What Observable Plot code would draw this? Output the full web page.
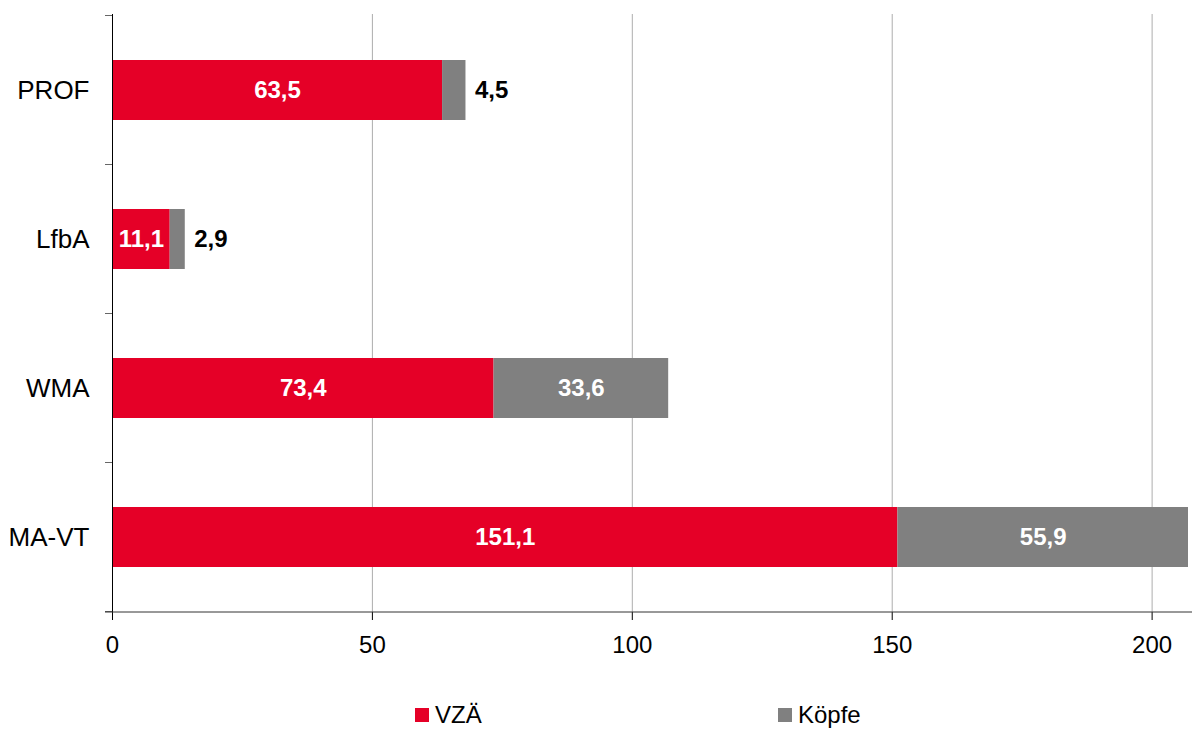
<!DOCTYPE html>
<html>
<head>
<meta charset="utf-8">
<script src="https://cdn.jsdelivr.net/npm/d3@7"></script>
<script src="https://cdn.jsdelivr.net/npm/@observablehq/plot@0.6"></script>
<style>
  html, body { margin: 0; padding: 0; background: #fff; }
  #wrap { position: relative; width: 1192px; height: 729px; font-family: "Liberation Sans", Arial, sans-serif; }
  #legend { position: absolute; left: 0; top: 700px; width: 1192px; height: 29px; font-size: 24px; color: #000; }
  .item { position: absolute; top: 0; height: 29px; display: flex; align-items: center; }
  .sw { width: 14px; height: 14px; margin-right: 6px; }
</style>
</head>
<body>
<div id="wrap">
  <div id="chart"></div>
  <div id="legend"></div>
</div>
<script>
const categories = ["PROF", "LfbA", "WMA", "MA-VT"];
const seriesNames = ["VZÄ", "Köpfe"];
const vzaValues = [63.5, 11.1, 73.4, 151.1];
const koepfeValues = [4.5, 2.9, 33.6, 55.9];
const xTicks = [0, 50, 100, 150, 200];
const colors = ["#e50027", "#808080"];

const fmt = v => v.toFixed(1).replace(".", ",");

const rows = [];
categories.forEach((c, i) => {
  rows.push({cat: c, series: "VZÄ", value: vzaValues[i], inside: true});
  rows.push({cat: c, series: "Köpfe", value: koepfeValues[i], inside: koepfeValues[i] >= 10});
});
const outside = categories
  .map((c, i) => ({cat: c, total: vzaValues[i] + koepfeValues[i], value: koepfeValues[i]}))
  .filter(d => d.value < 10);

const order = seriesNames;

const chart = Plot.plot({
  width: 1192,
  height: 700,
  marginLeft: 112,
  marginRight: 4,
  marginTop: 14,
  marginBottom: 88,
  style: {fontFamily: "Liberation Sans, Arial, sans-serif", fontSize: "24px", color: "#000", background: "#fff", overflow: "visible"},
  x: {domain: [0, 207]},
  y: {domain: categories, paddingInner: 0.6, paddingOuter: 0.3},
  color: {domain: seriesNames, range: colors},
  marks: [
    Plot.gridX(xTicks.filter(t => t > 0), {stroke: "#adadad", strokeOpacity: 1}),
    Plot.barX(rows, Plot.stackX({x: "value", y: "cat", fill: "series", order})),
    Plot.ruleX([0], {stroke: "#000"}),
    Plot.axisX(xTicks, {tickSize: 8, tickPadding: 15, label: null, stroke: "#000"}),
    Plot.axisY({tickSize: 0, tickPadding: 23, label: null, fontSize: 26}),
    Plot.text(rows, Plot.stackX({
      x: "value", y: "cat", z: "series", order,
      text: d => d.inside ? fmt(d.value) : "",
      fill: "#fff", fontWeight: "bold", fontSize: 24
    })),
    Plot.text(outside, {
      x: "total", y: "cat", text: d => fmt(d.value),
      dx: 9, textAnchor: "start", fill: "#000", fontWeight: "bold", fontSize: 24
    })
  ]
});

document.getElementById("chart").appendChild(chart);

// axis decorations derived from the scales
const xs = chart.scale("x");
const ys = chart.scale("y");
const svg = d3.select(chart);
const x0 = xs.apply(0);
const yBottom = ys.range[1];
const bounds = [];
categories.forEach((c, i) => {
  const center = ys.apply(c) + ys.bandwidth / 2;
  if (i === 0) bounds.push(center - ys.step / 2);
  bounds.push(center + ys.step / 2);
});
const g = svg.append("g");
bounds.forEach(b => {
  g.append("line").attr("x1", x0 - 7).attr("x2", x0).attr("y1", b).attr("y2", b)
    .attr("stroke", "#666").attr("stroke-width", 1);
});
g.append("line").attr("x1", x0 - 7).attr("x2", 1192).attr("y1", yBottom).attr("y2", yBottom)
  .attr("stroke", "#333").attr("stroke-width", 1);

// legend
const legend = document.getElementById("legend");
const legendX = [415, 778];
seriesNames.forEach((s, i) => {
  const item = document.createElement("div");
  item.className = "item";
  item.style.left = legendX[i] + "px";
  item.innerHTML = `<div class="sw" style="background:${colors[i]}"></div><span>${s}</span>`;
  legend.appendChild(item);
});
</script>
</body>
</html>
